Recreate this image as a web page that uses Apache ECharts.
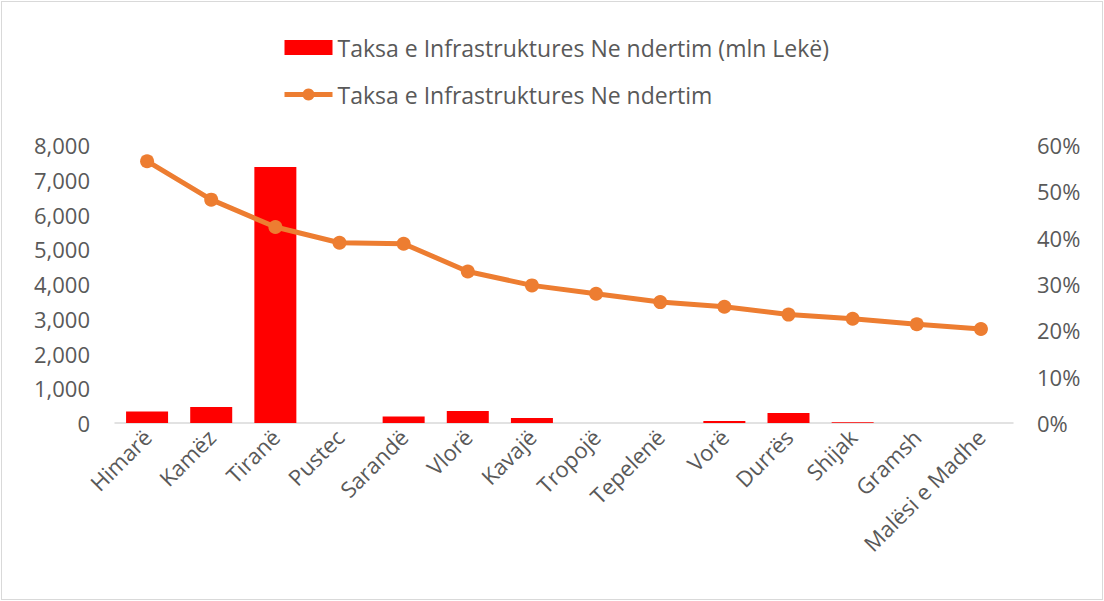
<!DOCTYPE html>
<html>
<head>
<meta charset="utf-8">
<script src="https://cdn.jsdelivr.net/npm/echarts@6/dist/echarts.min.js"></script>
<style>
  html, body { margin: 0; padding: 0; background: #fff; }
  #frame { position: absolute; left: 1px; top: 1px; width: 1100px; height: 597px; border: 1px solid #d9d9d9; }
  #chart { position: absolute; left: 0; top: 0; width: 1104px; height: 601px; }
</style>
</head>
<body>
<div id="frame"></div>
<div id="chart"></div>
<script>
var categories = ['Himarë', 'Kamëz', 'Tiranë', 'Pustec', 'Sarandë', 'Vlorë', 'Kavajë', 'Tropojë', 'Tepelenë', 'Vorë', 'Durrës', 'Shijak', 'Gramsh', 'Malësi e Madhe'];
var taxValues = [330, 460, 7370, 0, 185, 345, 145, 0, 0, 55, 290, 25, 0, 0];
var taxShare = [0.565, 0.482, 0.423, 0.389, 0.387, 0.327, 0.297, 0.279, 0.261, 0.251, 0.234, 0.225, 0.213, 0.203];
var barName = 'Taksa e Infrastruktures Ne ndertim (mln Lekë)';
var lineName = 'Taksa e Infrastruktures Ne ndertim';

(function() {
  var muted = '#595959';
  var rule = '#d9d9d9';
  var orange = '#ed7d31';
  var font = '"Open Sans", Lato, sans-serif';

  var chart = echarts.init(document.getElementById('chart'), null, { renderer: 'svg' });
  chart.setOption({
    animation: false,
    textStyle: { fontFamily: font },
    legend: {
      orient: 'vertical',
      left: 277,
      top: 31,
      itemGap: 24,
      itemWidth: 48,
      itemHeight: 15,
      textStyle: { color: muted, fontSize: 23, fontFamily: font },
      data: [
        { name: barName, icon: 'rect' },
        { name: lineName, lineStyle: { width: 5, color: orange } }
      ]
    },
    grid: { left: 115, right: 91, top: 145, bottom: 178 },
    xAxis: {
      type: 'category',
      data: categories,
      axisLine: { lineStyle: { color: rule, width: 1.5 } },
      axisTick: { show: false },
      axisLabel: { color: muted, fontSize: 22, rotate: 45, margin: 10, interval: 0 }
    },
    yAxis: [
      {
        type: 'value',
        min: 0,
        max: 8000,
        interval: 1000,
        axisLine: { show: false },
        axisTick: { show: false },
        splitLine: { show: false },
        axisLabel: {
          color: muted, fontSize: 22, margin: 25,
          formatter: function(v) { return v.toLocaleString('en-US'); }
        }
      },
      {
        type: 'value',
        min: 0,
        max: 0.6,
        interval: 0.1,
        axisLine: { show: false },
        axisTick: { show: false },
        splitLine: { show: false },
        axisLabel: {
          color: muted, fontSize: 22, margin: 24,
          formatter: function(v) { return Math.round(v * 100) + '%'; }
        }
      }
    ],
    series: [
      {
        name: barName,
        type: 'bar',
        data: taxValues,
        barWidth: 42,
        itemStyle: { color: '#ff0000' }
      },
      {
        name: lineName,
        type: 'line',
        yAxisIndex: 1,
        data: taxShare,
        symbol: 'circle',
        symbolSize: 14,
        lineStyle: { color: orange, width: 5 },
        itemStyle: { color: orange }
      }
    ]
  });
})();
</script>
</body>
</html>
